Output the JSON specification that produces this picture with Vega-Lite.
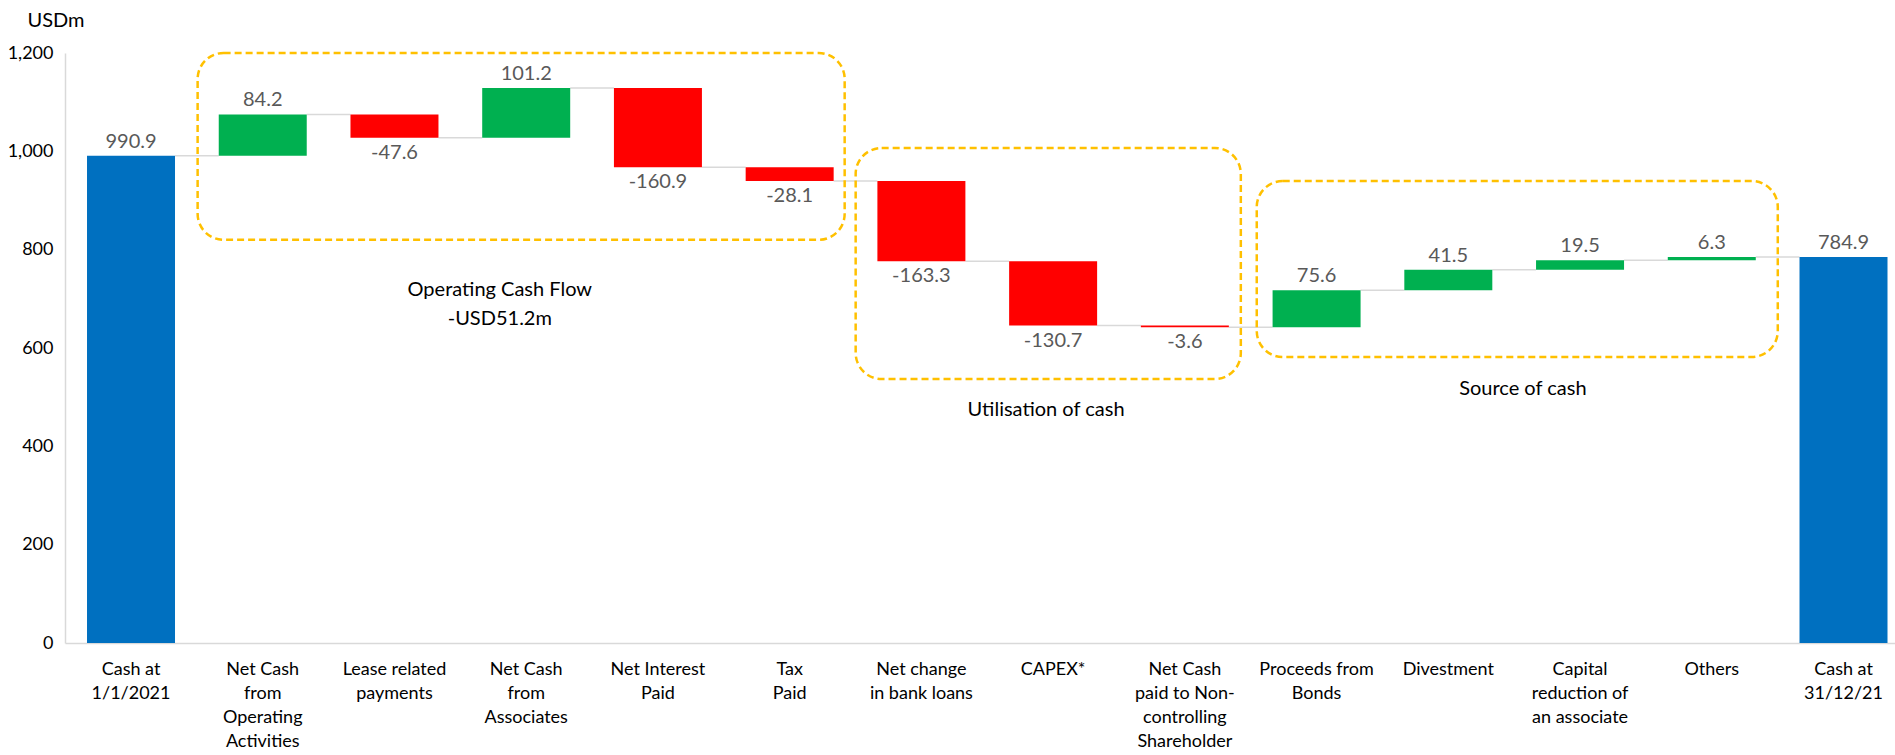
{
  "$schema": "https://vega.github.io/schema/vega-lite/v6.json",
  "width": 1830,
  "height": 590,
  "autosize": "none",
  "padding": {"left": 65, "top": 53, "right": 0, "bottom": 112},
  "background": "white",
  "config": {"view": {"stroke": null}, "font": "Lato"},
  "datasets": {
    "flows": [
      {"cat": "Cash at|1/1/2021", "start": 0, "end": 990.9, "label": "990.9", "type": "total", "next": "Net Cash|from|Operating|Activities"},
      {"cat": "Net Cash|from|Operating|Activities", "start": 990.9, "end": 1075.1, "label": "84.2", "type": "up", "next": "Lease related|payments"},
      {"cat": "Lease related|payments", "start": 1075.1, "end": 1027.5, "label": "-47.6", "type": "down", "next": "Net Cash|from|Associates"},
      {"cat": "Net Cash|from|Associates", "start": 1027.5, "end": 1128.7, "label": "101.2", "type": "up", "next": "Net Interest|Paid"},
      {"cat": "Net Interest|Paid", "start": 1128.7, "end": 967.8, "label": "-160.9", "type": "down", "next": "Tax|Paid"},
      {"cat": "Tax|Paid", "start": 967.8, "end": 939.7, "label": "-28.1", "type": "down", "next": "Net change|in bank loans"},
      {"cat": "Net change|in bank loans", "start": 939.7, "end": 776.4, "label": "-163.3", "type": "down", "next": "CAPEX*"},
      {"cat": "CAPEX*", "start": 776.4, "end": 645.7, "label": "-130.7", "type": "down", "next": "Net Cash|paid to Non-|controlling|Shareholder"},
      {"cat": "Net Cash|paid to Non-|controlling|Shareholder", "start": 645.7, "end": 642.1, "label": "-3.6", "type": "down", "next": "Proceeds from|Bonds"},
      {"cat": "Proceeds from|Bonds", "start": 642.1, "end": 717.7, "label": "75.6", "type": "up", "next": "Divestment"},
      {"cat": "Divestment", "start": 717.7, "end": 759.2, "label": "41.5", "type": "up", "next": "Capital|reduction of|an associate"},
      {"cat": "Capital|reduction of|an associate", "start": 759.2, "end": 778.7, "label": "19.5", "type": "up", "next": "Others"},
      {"cat": "Others", "start": 778.7, "end": 785.0, "label": "6.3", "type": "up", "next": "Cash at|31/12/21"},
      {"cat": "Cash at|31/12/21", "start": 0, "end": 784.9, "label": "784.9", "type": "total", "next": null}
    ]
  },
  "layer": [
    {
      "data": {"name": "flows"},
      "transform": [{"filter": "datum.next != null"}],
      "mark": {"type": "rule", "color": "#D9D9D9", "strokeWidth": 1.5},
      "encoding": {
        "x": {"field": "cat", "type": "nominal", "bandPosition": 1, "title": null},
        "x2": {"field": "next", "bandPosition": 0},
        "y": {"field": "end", "type": "quantitative"}
      }
    },
    {
      "data": {"name": "flows"},
      "mark": {"type": "bar"},
      "encoding": {
        "x": {
          "field": "cat", "type": "nominal", "title": null,
          "scale": {
            "domain": ["Cash at|1/1/2021", "Net Cash|from|Operating|Activities", "Lease related|payments", "Net Cash|from|Associates", "Net Interest|Paid", "Tax|Paid", "Net change|in bank loans", "CAPEX*", "Net Cash|paid to Non-|controlling|Shareholder", "Proceeds from|Bonds", "Divestment", "Capital|reduction of|an associate", "Others", "Cash at|31/12/21"],
            "paddingInner": 0.332, "paddingOuter": 0.112, "align": 0.746
          },
          "axis": {
            "labelAngle": 0,
            "labelAlign": "center",
            "labelBaseline": "top",
            "labelExpr": "split(datum.value, '|')",
            "labelFontSize": 18,
            "labelColor": "#000000",
            "labelLineHeight": 24,
            "labelPadding": 17,
            "labelOverlap": false,
            "labelBound": false,
            "labelFlush": false,
            "labelLimit": 200,
            "ticks": false,
            "domainColor": "#D9D9D9",
            "domainWidth": 1.5
          }
        },
        "y": {
          "field": "start", "type": "quantitative",
          "scale": {"domain": [0, 1200], "nice": false},
          "axis": {
            "values": [0, 200, 400, 600, 800, 1000, 1200],
            "format": ",.0f",
            "grid": false,
            "ticks": false,
            "domainColor": "#D9D9D9",
            "domainWidth": 1.5,
            "labelFontSize": 18,
            "labelColor": "#000000",
            "labelPadding": 12,
            "title": "USDm",
            "titleAngle": 0,
            "titleAlign": "left",
            "titleBaseline": "middle",
            "titleX": -38,
            "titleY": -33,
            "titleFontSize": 20,
            "titleFontWeight": "normal",
            "titleColor": "#000000"
          }
        },
        "y2": {"field": "end"},
        "color": {
          "field": "type", "type": "nominal", "legend": null,
          "scale": {"domain": ["total", "up", "down"], "range": ["#0070C0", "#00B050", "#FF0000"]}
        }
      }
    },
    {
      "data": {"name": "flows"},
      "transform": [{"filter": "datum.type != 'down'"}],
      "mark": {"type": "text", "baseline": "middle", "dy": -14, "fontSize": 20, "color": "#595959"},
      "encoding": {
        "x": {"field": "cat", "type": "nominal", "bandPosition": 0.5, "title": null},
        "y": {"field": "end", "type": "quantitative"},
        "text": {"field": "label"}
      }
    },
    {
      "data": {"name": "flows"},
      "transform": [{"filter": "datum.type == 'down'"}],
      "mark": {"type": "text", "baseline": "middle", "dy": 15, "fontSize": 20, "color": "#595959"},
      "encoding": {
        "x": {"field": "cat", "type": "nominal", "bandPosition": 0.5, "title": null},
        "y": {"field": "end", "type": "quantitative"},
        "text": {"field": "label"}
      }
    },
    {
      "data": {"values": [{"from": "Net Cash|from|Operating|Activities", "to": "Tax|Paid", "top": 1200, "bottom": 820}]},
      "mark": {"type": "rect", "fillOpacity": 0, "stroke": "#FFC000", "strokeWidth": 2.5, "strokeDash": [7, 4], "cornerRadius": 26},
      "encoding": {
        "x": {"field": "from", "type": "nominal", "bandPosition": -0.24, "title": null},
        "x2": {"field": "to", "bandPosition": 1.125},
        "y": {"field": "top", "type": "quantitative"},
        "y2": {"field": "bottom"}
      }
    },
    {
      "data": {"values": [{"from": "Net change|in bank loans", "to": "Net Cash|paid to Non-|controlling|Shareholder", "top": 1006.8, "bottom": 537}]},
      "mark": {"type": "rect", "fillOpacity": 0, "stroke": "#FFC000", "strokeWidth": 2.5, "strokeDash": [7, 4], "cornerRadius": 26},
      "encoding": {
        "x": {"field": "from", "type": "nominal", "bandPosition": -0.247, "title": null},
        "x2": {"field": "to", "bandPosition": 1.136},
        "y": {"field": "top", "type": "quantitative"},
        "y2": {"field": "bottom"}
      }
    },
    {
      "data": {"values": [{"from": "Proceeds from|Bonds", "to": "Others", "top": 939.6, "bottom": 581.7}]},
      "mark": {"type": "rect", "fillOpacity": 0, "stroke": "#FFC000", "strokeWidth": 2.5, "strokeDash": [7, 4], "cornerRadius": 26},
      "encoding": {
        "x": {"field": "from", "type": "nominal", "bandPosition": -0.18, "title": null},
        "x2": {"field": "to", "bandPosition": 1.25},
        "y": {"field": "top", "type": "quantitative"},
        "y2": {"field": "bottom"}
      }
    },
    {
      "data": {"values": [{"note": ["Operating Cash Flow", "-USD51.2m"], "cat": "Net Cash|from|Associates", "v": 717}]},
      "mark": {"type": "text", "baseline": "middle", "align": "center", "fontSize": 20, "lineHeight": 29, "color": "#000000"},
      "encoding": {
        "x": {"field": "cat", "type": "nominal", "bandPosition": 0.2, "title": null},
        "y": {"field": "v", "type": "quantitative"},
        "text": {"field": "note"}
      }
    },
    {
      "data": {"values": [{"note": "Utilisation of cash", "cat": "CAPEX*", "v": 474}]},
      "mark": {"type": "text", "baseline": "middle", "align": "center", "fontSize": 20, "color": "#000000"},
      "encoding": {
        "x": {"field": "cat", "type": "nominal", "bandPosition": 0.42, "title": null},
        "y": {"field": "v", "type": "quantitative"},
        "text": {"field": "note"}
      }
    },
    {
      "data": {"values": [{"note": "Source of cash", "cat": "Capital|reduction of|an associate", "v": 517}]},
      "mark": {"type": "text", "baseline": "middle", "align": "center", "fontSize": 20, "color": "#000000"},
      "encoding": {
        "x": {"field": "cat", "type": "nominal", "bandPosition": -0.15, "title": null},
        "y": {"field": "v", "type": "quantitative"},
        "text": {"field": "note"}
      }
    }
  ]
}
